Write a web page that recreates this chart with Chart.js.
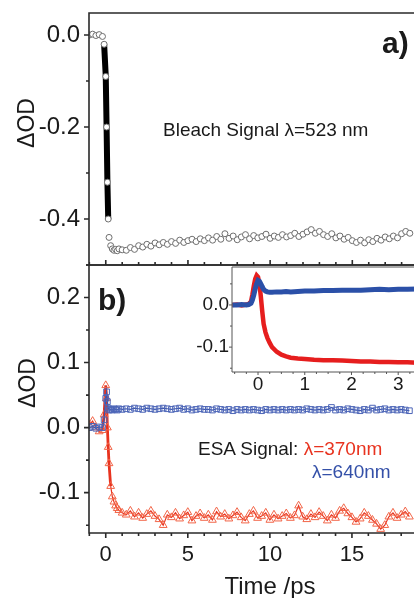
<!DOCTYPE html>
<html>
<head>
<meta charset="utf-8">
<script src="https://cdn.jsdelivr.net/npm/chart.js@4.4.1/dist/chart.umd.min.js"></script>
<style>
  html, body { margin: 0; padding: 0; background: #fff; }
  body { position: relative; width: 414px; height: 598px; overflow: hidden;
         font-family: 'Liberation Sans', Arial, sans-serif; color: #1a1a1a; }
  canvas { position: absolute; }
  .lbl { position: absolute; white-space: nowrap; line-height: 1; }
  .rot { position: absolute; white-space: nowrap; line-height: 1; font-size: 23px;
         transform: translate(-50%, -50%) rotate(-90deg); }
</style>
</head>
<body>
<canvas id="bleachChart" width="451" height="280" style="left:0;top:0"></canvas>
<canvas id="esaChart" width="451" height="351" style="left:0;top:250px"></canvas>
<canvas id="insetChart" width="311" height="160" style="left:140px;top:240px"></canvas>

<div class="rot" style="left:26px;top:123px">ΔOD</div>
<div class="rot" style="left:27px;top:383px">ΔOD</div>
<div class="lbl" style="left:270px;top:574px;font-size:24px;transform:translateX(-50%)">Time /ps</div>
<div class="lbl" style="left:163px;top:120px;font-size:19px">Bleach Signal λ=523 nm</div>
<div class="lbl" style="left:198px;top:439px;font-size:19px">ESA Signal: <span style="color:#e8331f">λ=370nm</span></div>
<div class="lbl" style="left:312px;top:462px;font-size:19px;color:#3450a8">λ=640nm</div>
<div class="lbl" style="left:382px;top:28px;font-size:30px;font-weight:bold">a)</div>
<div class="lbl" style="left:98px;top:285px;font-size:30px;font-weight:bold">b)</div>

<script>
// time axis (ps) shared by panels a and b
var mainTime = [-1.0, -0.8, -0.6, -0.4, -0.2, -0.1, 0.0, 0.05, 0.1, 0.15, 0.2, 0.3, 0.4, 0.5, 0.6, 0.7, 0.8, 1.0,
  1.25, 1.5, 1.75, 2.0, 2.25, 2.5, 2.75, 3.0, 3.25, 3.5,
  3.75, 4.0, 4.25, 4.5, 4.75, 5.0, 5.25, 5.5, 5.75, 6.0,
  6.25, 6.5, 6.75, 7.0, 7.25, 7.5, 7.75, 8.0, 8.25, 8.5,
  8.75, 9.0, 9.25, 9.5, 9.75, 10.0, 10.25, 10.5, 10.75, 11.0,
  11.25, 11.5, 11.75, 12.0, 12.25, 12.5, 12.75, 13.0, 13.25, 13.5,
  13.75, 14.0, 14.25, 14.5, 14.75, 15.0, 15.25, 15.5, 15.75, 16.0,
  16.25, 16.5, 16.75, 17.0, 17.25, 17.5, 17.75, 18.0, 18.25, 18.5];

// a) bleach signal at 523 nm
var bleach523 = [0.0, 0.002, -0.001, 0.001, -0.003, -0.02, -0.09, -0.2, -0.32, -0.4, -0.44, -0.458, -0.465, -0.468, -0.466, -0.469, -0.465, -0.467,
  -0.468, -0.462, -0.466, -0.458, -0.461, -0.455, -0.459, -0.452, -0.456, -0.451,
  -0.455, -0.449, -0.453, -0.446, -0.451, -0.447, -0.444, -0.449, -0.443, -0.447,
  -0.441, -0.446, -0.438, -0.444, -0.432, -0.442, -0.437, -0.445, -0.439, -0.434,
  -0.443, -0.436, -0.441, -0.438, -0.433, -0.442, -0.437, -0.44, -0.434, -0.439,
  -0.436, -0.431, -0.438, -0.433, -0.428, -0.423, -0.431, -0.427, -0.434, -0.438,
  -0.432, -0.441, -0.437, -0.444, -0.44, -0.447, -0.451, -0.446, -0.452, -0.445,
  -0.449, -0.442, -0.446, -0.439, -0.443, -0.437, -0.441, -0.432, -0.427, -0.431];

// b) excited state absorption
var esa370 = [0.004, 0.01, 0.0, -0.006, -0.004, 0.02, 0.065, 0.045, 0.0, -0.03, -0.055, -0.09, -0.106, -0.114, -0.12, -0.124, -0.127, -0.131,
  -0.134, -0.128, -0.137, -0.131, -0.139, -0.133, -0.128, -0.136, -0.141, -0.15,
  -0.134, -0.138, -0.131, -0.14, -0.135, -0.13, -0.143, -0.136, -0.132, -0.139,
  -0.134, -0.142, -0.129, -0.137, -0.133, -0.14, -0.135, -0.13, -0.138, -0.143,
  -0.133, -0.128, -0.139, -0.136, -0.131, -0.142, -0.134, -0.14, -0.136, -0.132,
  -0.139, -0.135, -0.12, -0.137, -0.141, -0.133, -0.138, -0.13, -0.136, -0.143,
  -0.134, -0.139, -0.128, -0.124, -0.132, -0.138, -0.145, -0.14, -0.131, -0.136,
  -0.142, -0.148, -0.156, -0.15, -0.137, -0.131, -0.139, -0.134, -0.129, -0.137];

var esa640 = [0.0, 0.002, -0.001, 0.001, 0.0, 0.012, 0.045, 0.055, 0.04, 0.03, 0.027, 0.028, 0.027, 0.029, 0.028, 0.027, 0.029, 0.028,
  0.029, 0.028, 0.03, 0.029, 0.028, 0.03, 0.029, 0.028, 0.029, 0.03,
  0.029, 0.028, 0.029, 0.03, 0.028, 0.029, 0.027, 0.028, 0.029, 0.028,
  0.028, 0.027, 0.029, 0.028, 0.027, 0.028, 0.026, 0.028, 0.027, 0.028,
  0.027, 0.028, 0.027, 0.026, 0.028, 0.027, 0.028, 0.027, 0.028, 0.027,
  0.028, 0.027, 0.028, 0.027, 0.029, 0.028, 0.027, 0.028, 0.027, 0.028,
  0.031, 0.027, 0.028, 0.027, 0.029, 0.028, 0.027, 0.026, 0.028, 0.027,
  0.03, 0.027, 0.028, 0.029, 0.027, 0.028, 0.027, 0.028, 0.027, 0.026];

// inset: early times
var insetTime = [-0.55, -0.45, -0.35, -0.25, -0.2, -0.15, -0.12, -0.09, -0.06, -0.03, 0, 0.03, 0.06, 0.09, 0.12,
  0.16, 0.2, 0.25, 0.3, 0.4, 0.5, 0.6, 0.7, 0.85, 1.0, 1.2, 1.4, 1.6, 1.8, 2.0, 2.2, 2.4, 2.6, 2.8, 3.0, 3.2, 3.4, 3.6, 4.1];
var insetRed = [0, 0.001, -0.001, 0.001, 0.002, 0.008, 0.025, 0.045, 0.062, 0.07, 0.066, 0.05, 0.02, -0.015, -0.045,
  -0.065, -0.078, -0.09, -0.1, -0.111, -0.118, -0.122, -0.125, -0.127, -0.128, -0.13, -0.131, -0.131, -0.132, -0.133,
  -0.134, -0.134, -0.135, -0.135, -0.136, -0.136, -0.137, -0.137, -0.137];
var insetBlue = [0, 0, 0.001, 0, 0.001, 0.004, 0.012, 0.024, 0.038, 0.05, 0.058, 0.056, 0.05, 0.043, 0.037,
  0.033, 0.031, 0.03, 0.03, 0.031, 0.031, 0.032, 0.031, 0.032, 0.033, 0.033, 0.034, 0.034, 0.035, 0.035,
  0.035, 0.036, 0.037, 0.036, 0.037, 0.037, 0.038, 0.038, 0.038];

var FONT = "'Liberation Sans', Arial, sans-serif";

function pts(xs, ys) {
  return xs.map(function (x, i) { return { x: x, y: ys[i] }; });
}

// frame lines + tick marks drawn from the chart's own scales
var frameAxes = {
  id: 'frameAxes',
  beforeDraw: function (chart, args, opts) {
    if (!opts.fill) return;
    var a = chart.chartArea, ctx = chart.ctx;
    ctx.save();
    ctx.fillStyle = opts.fill;
    ctx.fillRect(a.left, a.top, a.right - a.left, a.bottom - a.top);
    ctx.restore();
  },
  afterDraw: function (chart, args, opts) {
    var a = chart.chartArea, ctx = chart.ctx, sx = chart.scales.x, sy = chart.scales.y;
    ctx.save();
    ctx.strokeStyle = opts.color;
    ctx.lineWidth = opts.width;
    ctx.beginPath();
    ctx.moveTo(a.right, a.top);
    ctx.lineTo(a.left, a.top);
    ctx.lineTo(a.left, a.bottom);
    ctx.lineTo(a.right, a.bottom);
    sy.ticks.forEach(function (t) {
      var y = sy.getPixelForValue(t.value);
      ctx.moveTo(a.left, y);
      ctx.lineTo(a.left - (t.label ? opts.major : opts.minor), y);
    });
    sx.ticks.forEach(function (t) {
      var x = sx.getPixelForValue(t.value);
      ctx.moveTo(x, a.bottom);
      ctx.lineTo(x, a.bottom + opts.xDir * (t.label ? opts.major : opts.minor));
    });
    ctx.stroke();
    ctx.restore();
  }
};

function fixWidth(w) {
  return function (s) { s.width = w; s.paddingTop = 0; s.paddingBottom = 0; };
}
function fixHeight(h) {
  return function (s) { s.height = h; s.paddingLeft = 0; s.paddingRight = 0; };
}
function tenths(v) {
  var r = Math.round(v * 10);
  return Math.abs(v * 10 - r) < 1e-6 ? (r / 10).toFixed(1) : '';
}
function evenTenths(v) {
  var r = Math.round(v * 10);
  return (Math.abs(v * 10 - r) < 1e-6 && r % 2 === 0) ? (r / 10).toFixed(1) : '';
}

function baseOptions(cfg) {
  return {
    responsive: false,
    animation: false,
    devicePixelRatio: 1,
    layout: { padding: { top: cfg.top, left: 0, right: 0, bottom: 0 } },
    plugins: {
      legend: { display: false },
      tooltip: { enabled: false },
      frameAxes: cfg.frame
    },
    elements: { line: { tension: 0 } },
    scales: {
      x: {
        type: 'linear', min: cfg.xMin, max: cfg.xMax,
        grid: { display: false, drawTicks: false }, border: { display: false },
        ticks: {
          display: cfg.xLabels, stepSize: cfg.xStep, autoSkip: false, maxRotation: 0,
          includeBounds: false, padding: cfg.xPad, color: '#1a1a1a',
          font: { family: FONT, size: cfg.xFont },
          callback: cfg.xFmt
        },
        afterFit: fixHeight(cfg.xHeight)
      },
      y: {
        type: 'linear', min: cfg.yMin, max: cfg.yMax,
        grid: { display: false, drawTicks: false }, border: { display: false },
        ticks: {
          stepSize: cfg.yStep, autoSkip: false, includeBounds: false, padding: cfg.yPad,
          color: '#1a1a1a', font: { family: FONT, size: cfg.yFont },
          callback: cfg.yFmt
        },
        afterFit: fixWidth(cfg.yWidth)
      }
    }
  };
}

function mainX(v) {
  var r = Math.round(v);
  return (Math.abs(v - r) < 1e-6 && r % 5 === 0) ? String(r) : '';
}

// panel a
new Chart(document.getElementById('bleachChart'), {
  type: 'scatter',
  data: {
    datasets: [{
      data: pts(mainTime, bleach523),
      showLine: true,
      borderColor: '#000',
      borderWidth: 6,
      segment: {
        borderColor: function (c) {
          return Math.abs(c.p1.parsed.y - c.p0.parsed.y) > 0.05 ? '#000' : 'rgba(0,0,0,0)';
        }
      },
      pointStyle: 'circle',
      pointRadius: 3,
      pointBorderWidth: 1,
      pointBorderColor: '#6e6e6e',
      pointBackgroundColor: '#fff'
    }]
  },
  options: baseOptions({
    top: 13, xMin: -1.02, xMax: 20.7, xStep: 1, xLabels: false, xPad: 0, xHeight: 15, xFmt: mainX, xFont: 22,
    yMin: -0.5, yMax: 0.048, yStep: 0.1, yPad: 9, yWidth: 89, yFmt: evenTenths, yFont: 24,
    frame: { color: '#2a2a2a', width: 1.6, major: 5, minor: 3, xDir: -1 }
  }),
  plugins: [frameAxes]
});

// panel b
new Chart(document.getElementById('esaChart'), {
  type: 'scatter',
  data: {
    datasets: [{
      data: pts(mainTime, esa640),
      showLine: true,
      borderColor: '#3b56ad',
      borderWidth: 1.2,
      pointStyle: 'rect',
      pointRadius: 4,
      pointBorderWidth: 1,
      pointBorderColor: '#4d66b8',
      pointBackgroundColor: 'rgba(255,255,255,0)'
    }, {
      data: pts(mainTime, esa370),
      showLine: true,
      borderColor: '#e8331f',
      borderWidth: 1.2,
      segment: {
        borderWidth: function (c) {
          return Math.abs(c.p1.parsed.y - c.p0.parsed.y) > 0.02 ? 2.8 : 1.2;
        }
      },
      pointStyle: 'triangle',
      pointRadius: 4.5,
      pointBorderWidth: 1,
      pointBorderColor: '#f26548',
      pointBackgroundColor: 'rgba(255,255,255,0)'
    }]
  },
  options: baseOptions({
    top: 15, xMin: -1.02, xMax: 20.7, xStep: 1, xLabels: true, xPad: 9, xHeight: 68, xFmt: mainX, xFont: 22,
    yMin: -0.162, yMax: 0.25, yStep: 0.05, yPad: 9, yWidth: 89, yFmt: tenths, yFont: 24,
    frame: { color: '#2a2a2a', width: 1.6, major: 5, minor: 3, xDir: 1 }
  }),
  plugins: [frameAxes]
});

// inset
new Chart(document.getElementById('insetChart'), {
  type: 'scatter',
  data: {
    datasets: [{
      data: pts(insetTime, insetBlue),
      showLine: true,
      borderColor: '#2b50a8',
      borderWidth: 5,
      pointRadius: 0
    }, {
      data: pts(insetTime, insetRed),
      showLine: true,
      borderColor: '#e61e1e',
      borderWidth: 4.5,
      pointRadius: 0
    }]
  },
  options: baseOptions({
    top: 27, xMin: -0.557, xMax: 4.13, xStep: 0.25, xLabels: true, xPad: 1, xHeight: 28, xFont: 19,
    xFmt: function (v) { var r = Math.round(v); return Math.abs(v - r) < 1e-6 ? String(r) : ''; },
    yMin: -0.159, yMax: 0.09, yStep: 0.05, yPad: 3, yWidth: 92, yFmt: tenths, yFont: 19,
    frame: { color: '#555', width: 1, major: 3, minor: 2, xDir: 1, fill: '#fff' }
  }),
  plugins: [frameAxes]
});
</script>
</body>
</html>
